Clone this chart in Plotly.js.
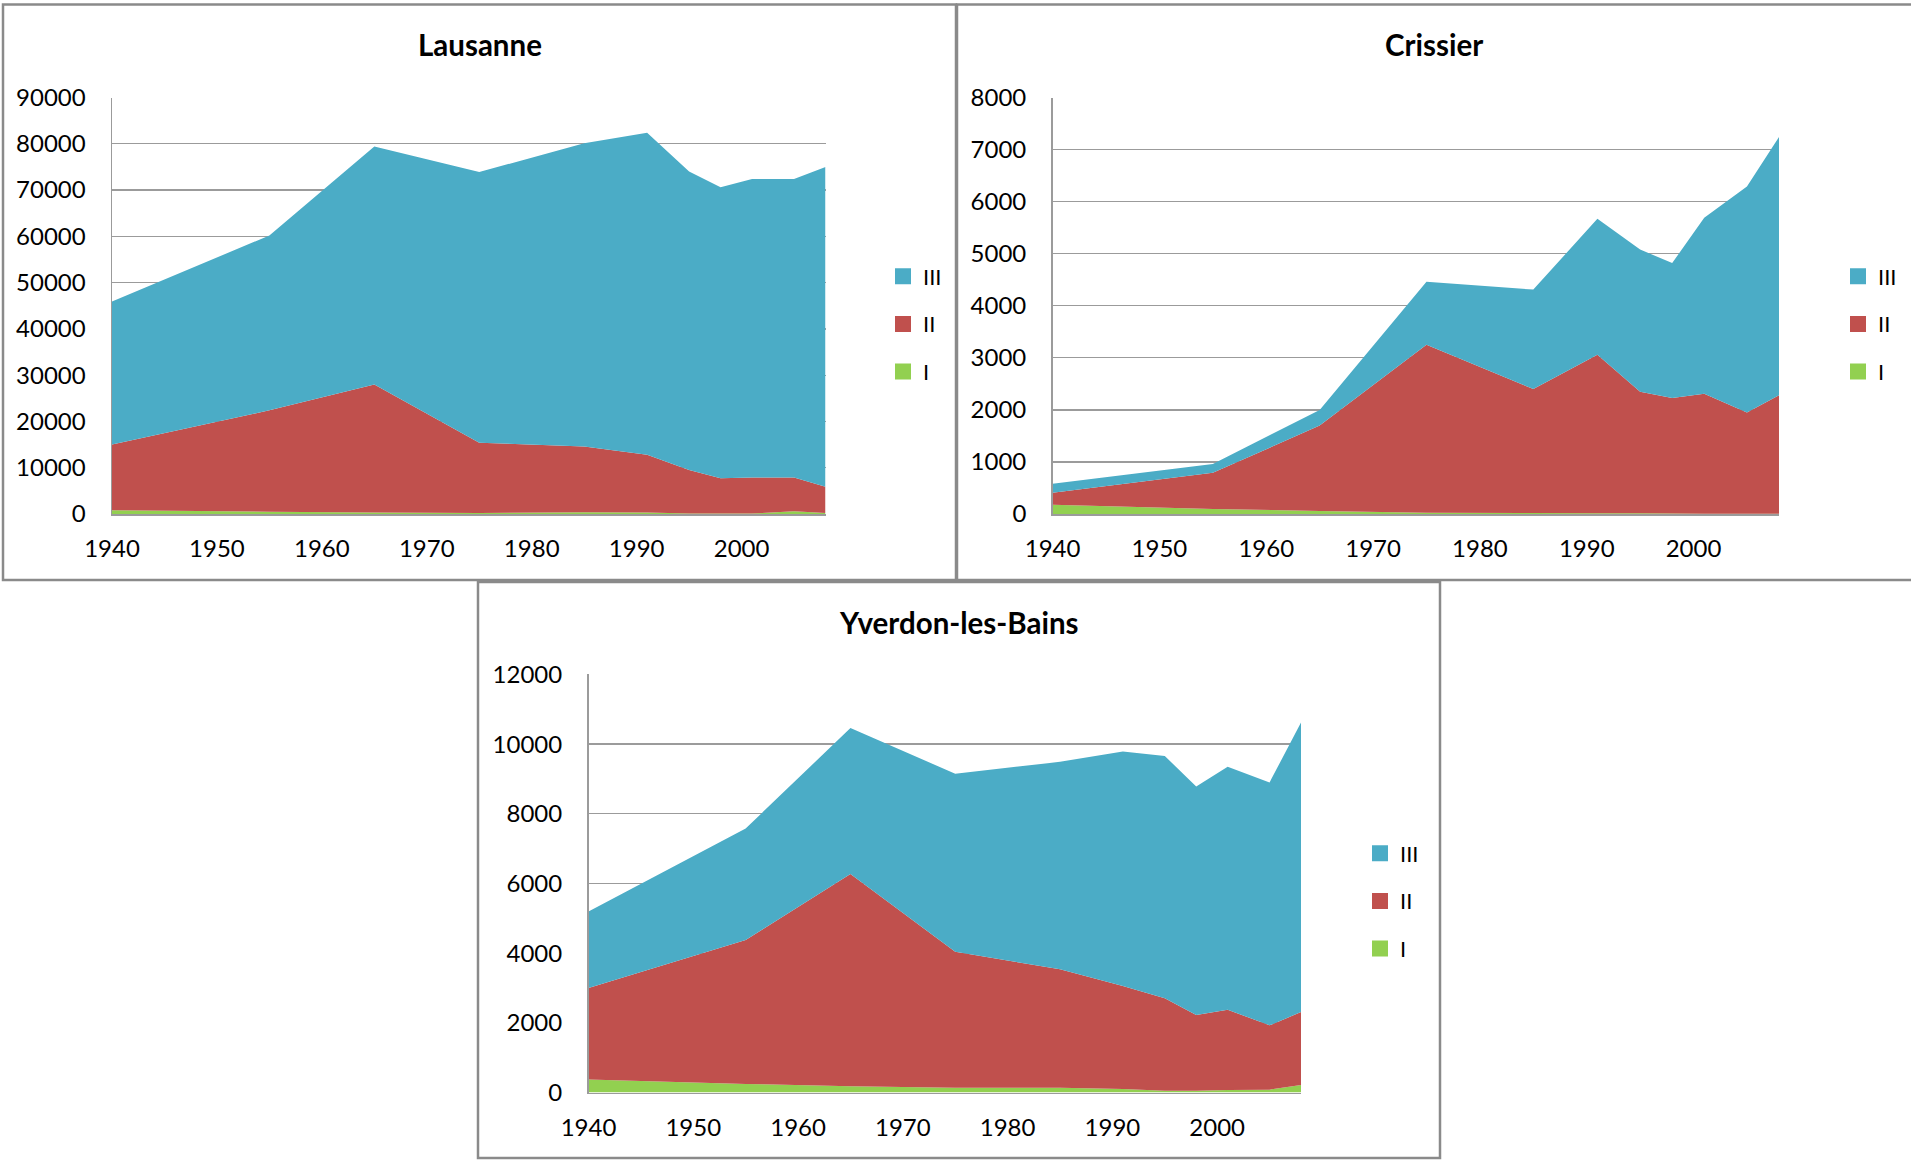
<!DOCTYPE html>
<html><head><meta charset="utf-8">
<script src="https://cdn.plot.ly/plotly-3.0.1.min.js"></script>
<style>html,body{margin:0;padding:0;background:#fff}#chart{width:1911px;height:1161px}</style>
</head><body><div id="chart"></div>
<script>
// ---- data ----
const years = [1940, 1955, 1965, 1975, 1985, 1991, 1995, 1998, 2001, 2005, 2008];
const xTicks = [1940, 1950, 1960, 1970, 1980, 1990, 2000];
const sectorNames = ['I', 'II', 'III'];

const lausanneI   = [800, 500, 300, 200, 400, 300, 100, 100, 100, 600, 200];
const lausanneII  = [14200, 21900, 27700, 15200, 14200, 12500, 9400, 7600, 7800, 7300, 5700];
const lausanneIII = [30900, 37800, 51400, 58500, 65500, 69600, 64500, 62900, 64500, 64500, 69100];

const crissierI   = [180, 95, 60, 25, 20, 15, 15, 10, 5, 5, 5];
const crissierII  = [230, 695, 1640, 3225, 2380, 3045, 2335, 2220, 2305, 1945, 2275];
const crissierIII = [170, 170, 300, 1210, 1910, 2610, 2730, 2590, 3380, 4340, 4960];

const yverdonI   = [375, 250, 180, 140, 140, 105, 55, 55, 75, 85, 215];
const yverdonII  = [2625, 4130, 6090, 3900, 3400, 2955, 2655, 2175, 2305, 1845, 2095];
const yverdonIII = [2200, 3200, 4190, 5110, 5950, 6730, 6950, 6550, 6970, 6970, 8310];

// ---- layout helpers ----
const W = 1911, H = 1161;
const px = v => v / W, py = v => 1 - v / H;
const colors = { I: '#92D050', II: '#C0504D', III: '#4BACC6' };
const FONT = 'Lato, "DejaVu Sans", sans-serif';

const panels = [
  { title: 'Lausanne', series: { I: lausanneI, II: lausanneII, III: lausanneIII }, ymax: 90000, dtick: 10000,
    plot: [112, 825.5, 97.5, 514], box: [3, 4.5, 956, 580], titleY: 45, legX: 883, legY: 324 },
  { title: 'Crissier', series: { I: crissierI, II: crissierII, III: crissierIII }, ymax: 8000, dtick: 1000,
    plot: [1052.6, 1779, 97.5, 514], box: [957, 4.5, 1914, 580], titleY: 45, legX: 1838, legY: 324 },
  { title: 'Yverdon-les-Bains', series: { I: yverdonI, II: yverdonII, III: yverdonIII }, ymax: 12000, dtick: 2000,
    plot: [588.5, 1301, 674.4, 1092.6], box: [478, 582, 1440, 1158], titleY: 622, legX: 1360, legY: 901 }
];

const data = [];
const layout = {
  width: W, height: H, margin: { l: 0, r: 0, t: 0, b: 0 },
  paper_bgcolor: '#fff', plot_bgcolor: '#fff',
  font: { family: FONT, color: '#000' },
  shapes: [], annotations: [], showlegend: true
};

panels.forEach((p, i) => {
  const n = i === 0 ? '' : String(i + 1);
  const xa = 'x' + n, ya = 'y' + n;
  const legName = 'legend' + n;
  sectorNames.forEach(s => {
    data.push({
      type: 'scatter', mode: 'none', x: years, y: p.series[s], name: s,
      stackgroup: 'g' + i, fill: 'tonexty', fillcolor: colors[s],
      line: { width: 0 }, xaxis: xa, yaxis: ya, showlegend: false, hoverinfo: 'x+y+name'
    });
  });
  sectorNames.slice().reverse().forEach(s => {
    data.push({
      type: 'scatter', mode: 'markers', x: [null], y: [null], name: s,
      marker: { symbol: 'square', size: 16, color: colors[s] },
      xaxis: xa, yaxis: ya, legend: legName, legendgroup: 'lg' + i + s, showlegend: true
    });
  });
  layout['xaxis' + n] = {
    domain: [px(p.plot[0]), px(p.plot[1])], anchor: ya, range: [1940, 2008],
    tickmode: 'array', tickvals: xTicks, showgrid: false, zeroline: false,
    showline: true, linecolor: '#9b9b9b', linewidth: 1.5, ticks: '',
    tickfont: { family: FONT, size: 24, color: '#000' }, ticklabelstandoff: 13, fixedrange: true
  };
  layout['yaxis' + n] = {
    domain: [py(p.plot[3]), py(p.plot[2])], anchor: xa, range: [0, p.ymax], dtick: p.dtick,
    tickformat: 'd', showgrid: true, gridcolor: '#9b9b9b', gridwidth: 1.3, zeroline: false,
    showline: true, linecolor: '#9b9b9b', linewidth: 1.5, ticks: '',
    tickfont: { family: FONT, size: 24, color: '#000' }, ticklabelstandoff: 20, fixedrange: true
  };
  layout[legName] = {
    x: px(p.legX), y: py(p.legY), xanchor: 'left', yanchor: 'middle',
    bgcolor: 'rgba(0,0,0,0)', font: { family: FONT, size: 22, color: '#000' },
    traceorder: 'grouped', tracegroupgap: 16, itemclick: false, itemdoubleclick: false
  };
  layout.shapes.push({
    type: 'rect', xref: 'paper', yref: 'paper',
    x0: px(p.box[0]), x1: px(p.box[2]), y0: py(p.box[3]), y1: py(p.box[1]),
    line: { color: '#8a8a8a', width: 2.5 }, fillcolor: 'rgba(0,0,0,0)', layer: 'above'
  });
  layout.annotations.push({
    xref: 'paper', yref: 'paper', x: px((p.box[0] + Math.min(p.box[2], 1911)) / 2), y: py(p.titleY),
    xanchor: 'center', yanchor: 'middle', showarrow: false,
    text: '<b>' + p.title + '</b>', font: { family: FONT, size: 29.5, color: '#000' }
  });
});

Plotly.newPlot('chart', data, layout, { displayModeBar: false, staticPlot: true });
</script></body></html>
